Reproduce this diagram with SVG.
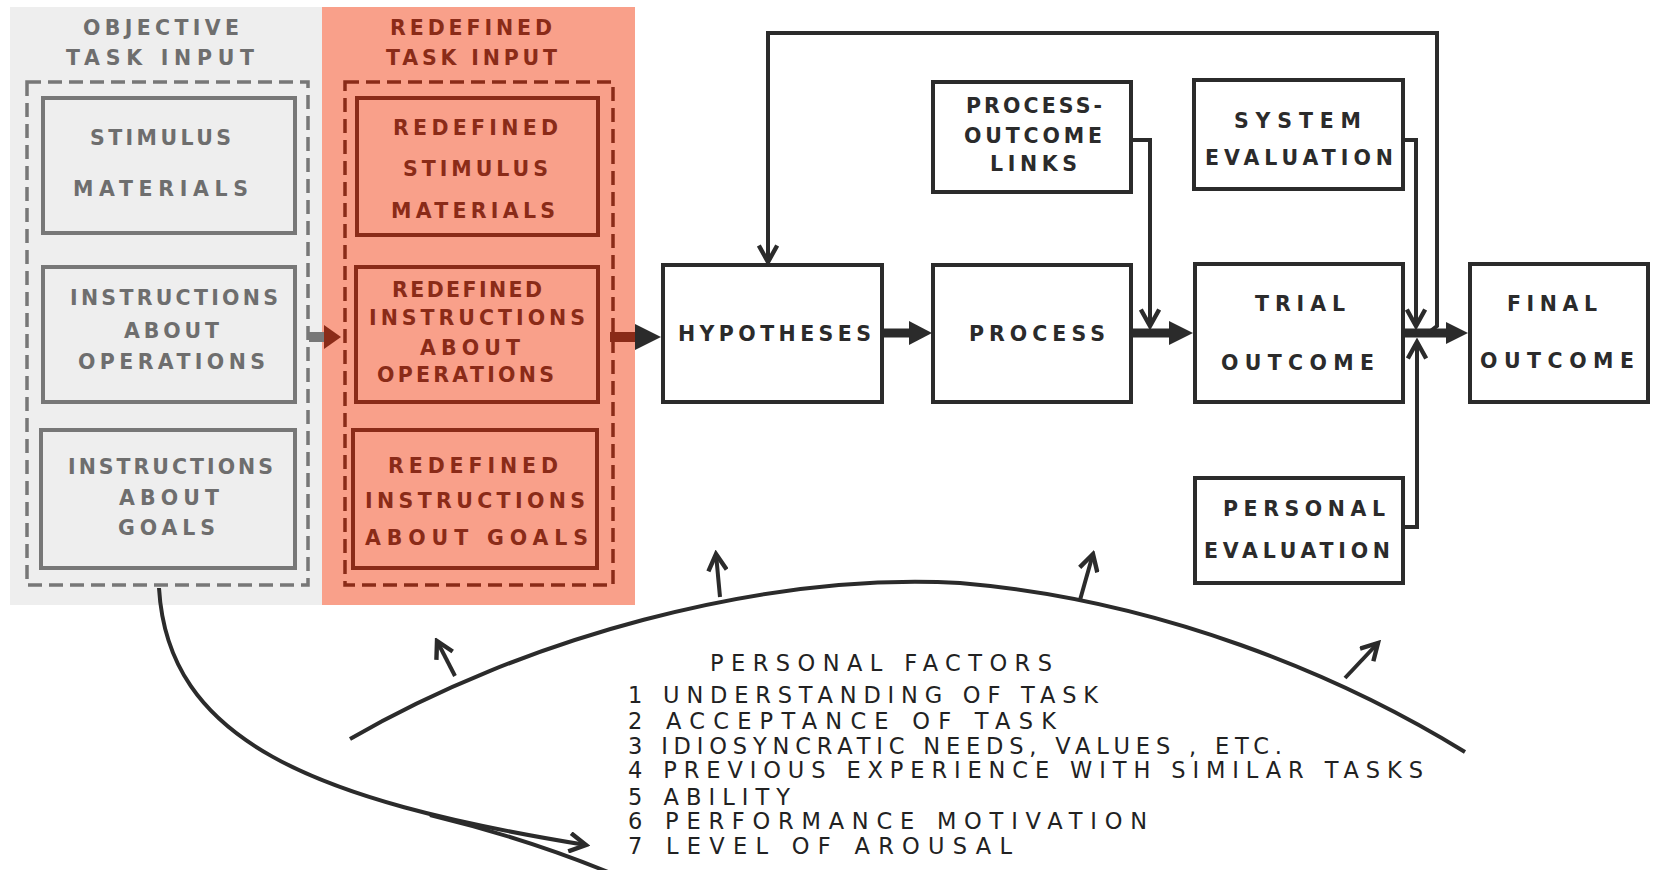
<svg xmlns="http://www.w3.org/2000/svg" width="1661" height="870" viewBox="0 0 1661 870">
<style>
.bg{fill:#ffffff}
.gpanel{fill:#eeeeee}
.rpanel{fill:#f9a08a}
.box{fill:#ffffff;stroke:#2b2b2b;stroke-width:4}
.gbox{fill:none;stroke:#777777;stroke-width:4}
.rbox{fill:none;stroke:#8a2b18;stroke-width:4}
.gdash{fill:none;stroke:#777777;stroke-width:3.5;stroke-dasharray:14 7}
.rdash{fill:none;stroke:#8a2b18;stroke-width:3.5;stroke-dasharray:14 7}
.lbl{font-family:"DejaVu Sans","Liberation Sans",Arial,sans-serif;font-weight:bold;font-size:20.5px;fill:#2b2b2b}
.glbl{fill:#6e6e6e}
.rlbl{fill:#8a2b18}
.pf{font-family:"DejaVu Sans","Liberation Sans",Arial,sans-serif;font-size:22.5px;fill:#222222}
.ln{fill:none;stroke:#2b2b2b;stroke-width:4}
.thick{fill:none;stroke:#2b2b2b;stroke-width:9}
.head{fill:#2b2b2b}
</style>
<defs>
<marker id="vee" viewBox="0 0 12 12" refX="10" refY="6" markerWidth="5.5" markerHeight="5.5" orient="auto" markerUnits="strokeWidth">
<path d="M1,1 L10,6 L1,11" fill="none" stroke="#2b2b2b" stroke-width="2.4"/>
</marker>
</defs>
<rect class="bg" x="0" y="0" width="1661" height="870"/>
<rect class="gpanel" x="10" y="7" width="312" height="598"/>
<rect class="rpanel" x="322" y="7" width="313" height="598"/>

<g id="objective-task-input">
<text class="lbl glbl" x="83" y="35" textLength="156" lengthAdjust="spacing">OBJECTIVE</text>
<text class="lbl glbl" x="66" y="65" textLength="188" lengthAdjust="spacing">TASK  INPUT</text>
<rect class="gdash" x="27" y="82" width="281" height="503"/>
</g>
<g id="stimulus-materials">
<rect class="gbox" x="43" y="98" width="252" height="135"/>
<text class="lbl glbl" x="90" y="145" textLength="141" lengthAdjust="spacing">STIMULUS</text>
<text class="lbl glbl" x="73" y="196" textLength="175" lengthAdjust="spacing">MATERIALS</text>
</g>
<g id="instructions-operations">
<rect class="gbox" x="43" y="267" width="252" height="135"/>
<text class="lbl glbl" x="70" y="305" textLength="208" lengthAdjust="spacing">INSTRUCTIONS</text>
<text class="lbl glbl" x="124" y="338" textLength="95" lengthAdjust="spacing">ABOUT</text>
<text class="lbl glbl" x="78" y="369" textLength="187" lengthAdjust="spacing">OPERATIONS</text>
</g>
<g id="instructions-goals">
<rect class="gbox" x="41" y="430" width="254" height="138"/>
<text class="lbl glbl" x="68" y="474" textLength="205" lengthAdjust="spacing">INSTRUCTIONS</text>
<text class="lbl glbl" x="119" y="505" textLength="100" lengthAdjust="spacing">ABOUT</text>
<text class="lbl glbl" x="118" y="535" textLength="97" lengthAdjust="spacing">GOALS</text>
</g>

<g id="redefined-task-input">
<text class="lbl rlbl" x="390" y="35" textLength="162" lengthAdjust="spacing">REDEFINED</text>
<text class="lbl rlbl" x="386" y="65" textLength="171" lengthAdjust="spacing">TASK INPUT</text>
<rect class="rdash" x="345" y="82" width="268" height="503"/>
</g>
<g id="redefined-stimulus">
<rect class="rbox" x="357" y="98" width="241" height="137"/>
<text class="lbl rlbl" x="393" y="135" textLength="165" lengthAdjust="spacing">REDEFINED</text>
<text class="lbl rlbl" x="403" y="176" textLength="145" lengthAdjust="spacing">STIMULUS</text>
<text class="lbl rlbl" x="391" y="218" textLength="164" lengthAdjust="spacing">MATERIALS</text>
</g>
<g id="redefined-operations">
<rect class="rbox" x="356" y="267" width="242" height="135"/>
<text class="lbl rlbl" x="392" y="297" textLength="150" lengthAdjust="spacing">REDEFINED</text>
<text class="lbl rlbl" x="369" y="325" textLength="216" lengthAdjust="spacing">INSTRUCTIONS</text>
<text class="lbl rlbl" x="420" y="355" textLength="100" lengthAdjust="spacing">ABOUT</text>
<text class="lbl rlbl" x="377" y="382" textLength="177" lengthAdjust="spacing">OPERATIONS</text>
</g>
<g id="redefined-goals">
<rect class="rbox" x="353" y="430" width="244" height="138"/>
<text class="lbl rlbl" x="388" y="473" textLength="170" lengthAdjust="spacing">REDEFINED</text>
<text class="lbl rlbl" x="365" y="508" textLength="220" lengthAdjust="spacing">INSTRUCTIONS</text>
<text class="lbl rlbl" x="365" y="545" textLength="223" lengthAdjust="spacing">ABOUT  GOALS</text>
</g>

<g id="hypotheses">
<rect class="box" x="663" y="265" width="219" height="137"/>
<text class="lbl" x="678" y="341" textLength="193" lengthAdjust="spacing">HYPOTHESES</text>
</g>
<g id="process">
<rect class="box" x="933" y="265" width="198" height="137"/>
<text class="lbl" x="969" y="341" textLength="136" lengthAdjust="spacing">PROCESS</text>
</g>
<g id="process-outcome-links">
<rect class="box" x="933" y="82" width="198" height="110"/>
<text class="lbl" x="966" y="113" textLength="136" lengthAdjust="spacing">PROCESS-</text>
<text class="lbl" x="964" y="143" textLength="138" lengthAdjust="spacing">OUTCOME</text>
<text class="lbl" x="990" y="171" textLength="87" lengthAdjust="spacing">LINKS</text>
</g>
<g id="system-evaluation">
<rect class="box" x="1194" y="80" width="209" height="109"/>
<text class="lbl" x="1234" y="128" textLength="127" lengthAdjust="spacing">SYSTEM</text>
<text class="lbl" x="1205" y="165" textLength="188" lengthAdjust="spacing">EVALUATION</text>
</g>
<g id="trial-outcome">
<rect class="box" x="1195" y="264" width="208" height="138"/>
<text class="lbl" x="1255" y="311" textLength="90" lengthAdjust="spacing">TRIAL</text>
<text class="lbl" x="1221" y="370" textLength="153" lengthAdjust="spacing">OUTCOME</text>
</g>
<g id="personal-evaluation">
<rect class="box" x="1195" y="478" width="208" height="105"/>
<text class="lbl" x="1223" y="516" textLength="162" lengthAdjust="spacing">PERSONAL</text>
<text class="lbl" x="1204" y="558" textLength="186" lengthAdjust="spacing">EVALUATION</text>
</g>
<g id="final-outcome">
<rect class="box" x="1470" y="264" width="178" height="138"/>
<text class="lbl" x="1507" y="311" textLength="90" lengthAdjust="spacing">FINAL</text>
<text class="lbl" x="1480" y="368" textLength="154" lengthAdjust="spacing">OUTCOME</text>
</g>

<g id="personal-factors">
<text class="pf" x="710" y="671" textLength="342" lengthAdjust="spacing">PERSONAL  FACTORS</text>
<text class="pf" x="628" y="703" textLength="470" lengthAdjust="spacing">1  UNDERSTANDING  OF  TASK</text>
<text class="pf" x="628" y="729" textLength="428" lengthAdjust="spacing">2  ACCEPTANCE  OF  TASK</text>
<text class="pf" x="628" y="754" textLength="654" lengthAdjust="spacing">3  IDIOSYNCRATIC  NEEDS, VALUES , ETC.</text>
<text class="pf" x="628" y="778" textLength="795" lengthAdjust="spacing">4  PREVIOUS  EXPERIENCE  WITH  SIMILAR  TASKS</text>
<text class="pf" x="628" y="805" textLength="162" lengthAdjust="spacing">5  ABILITY</text>
<text class="pf" x="628" y="829" textLength="519" lengthAdjust="spacing">6  PERFORMANCE  MOTIVATION</text>
<text class="pf" x="628" y="854" textLength="384" lengthAdjust="spacing">7  LEVEL  OF  AROUSAL</text>
</g>

<g id="connectors">
<rect x="309" y="332" width="17" height="10" fill="#777777"/>
<polygon points="324,325 341,337 324,349" fill="#8a2b18"/>
<rect x="610" y="332" width="26" height="10" fill="#8a2b18"/>
<polygon points="635,324 661,337 635,350" class="head"/>
<line class="thick" x1="882" y1="333" x2="912" y2="333"/>
<polygon points="909,321 932,333 909,345" class="head"/>
<line class="thick" x1="1131" y1="333" x2="1172" y2="333"/>
<polygon points="1169,321 1193,333 1169,345" class="head"/>
<polyline class="ln" points="1131,140 1150,140 1150,326" marker-end="url(#vee)"/>
<line class="thick" x1="1403" y1="333" x2="1450" y2="333"/>
<polygon points="1446,322 1468,333 1446,344" class="head"/>
<polyline class="ln" points="1403,140 1416,140 1416,326" marker-end="url(#vee)"/>
<polyline class="ln" points="1403,527 1417,527 1417,342" marker-end="url(#vee)"/>
<polyline class="ln" points="1428,333 1437,326 1437,33 768,33 768,262" marker-end="url(#vee)"/>
<path class="ln" d="M350,739 C520,640 760,572 960,583 C1160,600 1340,675 1465,752"/>
<line class="ln" x1="455" y1="676" x2="437" y2="641" marker-end="url(#vee)"/>
<line class="ln" x1="720" y1="597" x2="716" y2="554" marker-end="url(#vee)"/>
<line class="ln" x1="1080" y1="600" x2="1093" y2="554" marker-end="url(#vee)"/>
<line class="ln" x1="1345" y1="678" x2="1378" y2="643" marker-end="url(#vee)"/>
<path class="ln" d="M159,588 C168,740 310,800 586,845" marker-end="url(#vee)"/>
<path class="ln" d="M430,815 Q525,838 608,872"/>
</g>
</svg>
